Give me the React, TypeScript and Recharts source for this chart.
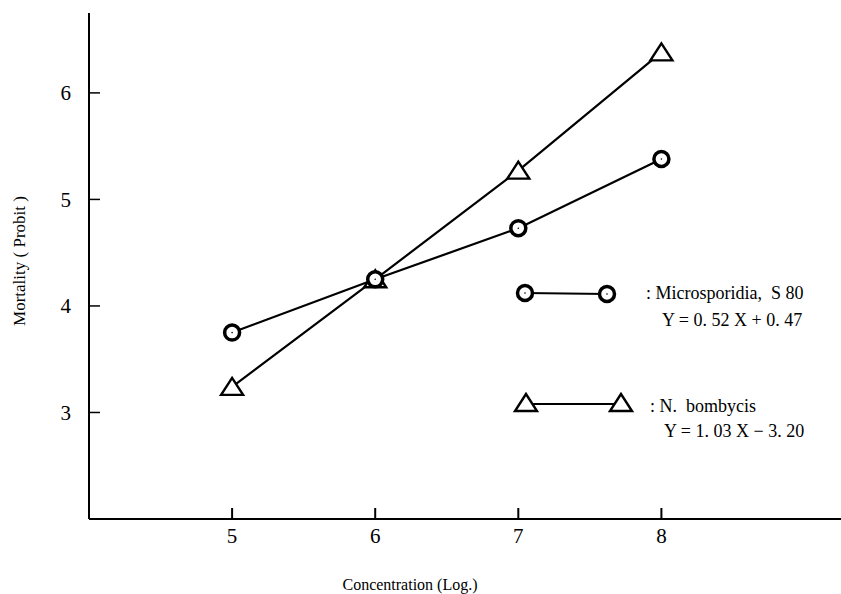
import React from 'react';
import { LineChart, Line, XAxis, YAxis, Legend } from 'recharts';

const concentration = [5, 6, 7, 8];
const microsporidia = [3.75, 4.25, 4.73, 5.38];
const bombycis = [3.24, 4.25, 5.27, 6.38];
const xTicks = [5, 6, 7, 8];
const yTicks = [3, 4, 5, 6];

const data = concentration.map((x, i) => ({ x, micro: microsporidia[i], bomb: bombycis[i] }));

const FONT = '"Liberation Serif", "Times New Roman", serif';

function Ring({ cx, cy }: { cx: number; cy: number }) {
  return (
    <g>
      <circle cx={cx} cy={cy} r={7.5} fill="#fff" stroke="#000" strokeWidth={3.5} />
      <circle cx={cx} cy={cy} r={0.8} fill="#000" />
    </g>
  );
}

function Tri({ cx, cy }: { cx: number; cy: number }) {
  return (
    <path
      d={`M${cx},${cy - 9} L${cx - 11},${cy + 8} L${cx + 11},${cy + 8} Z`}
      fill="#fff"
      stroke="#000"
      strokeWidth={2.4}
    />
  );
}

const ringDot = (p: any) => <Ring key={`r${p.index}`} cx={p.cx} cy={p.cy} />;
const triDot = (p: any) => <Tri key={`t${p.index}`} cx={p.cx} cy={p.cy} />;

function LegendBox() {
  const t = { fontFamily: FONT, fontSize: 18, fill: '#000' };
  return (
    <svg width={841} height={594} style={{ display: 'block' }}>
      <line x1={525} y1={293} x2={607} y2={294} stroke="#000" strokeWidth={2.2} />
      <Ring cx={525} cy={293} />
      <Ring cx={607} cy={294} />
      <text x={646} y={293} dominantBaseline="central" {...t}>: Microsporidia,&#160; S 80</text>
      <text x={662} y={320} dominantBaseline="central" {...t}>Y = 0. 52 X + 0. 47</text>

      <line x1={525} y1={404} x2={622} y2={404} stroke="#000" strokeWidth={2.2} />
      <Tri cx={526} cy={403} />
      <Tri cx={621} cy={403} />
      <text x={650} y={406} dominantBaseline="central" {...t}>: N.&#160; bombycis</text>
      <text x={664} y={431} dominantBaseline="central" {...t}>Y = 1. 03 X − 3. 20</text>
    </svg>
  );
}

export default function App() {
  return (
    <div style={{ position: 'absolute', left: 0, top: 0, background: '#fff' }}>
      <LineChart width={841} height={594} data={data} margin={{ top: 13, right: 0, bottom: 0, left: 0 }}>
        <XAxis
          type="number"
          dataKey="x"
          domain={[4, 9.255]}
          ticks={xTicks}
          allowDataOverflow
          height={75}
          tickSize={-11}
          tickMargin={20}
          axisLine={{ stroke: '#000', strokeWidth: 2 }}
          tickLine={{ stroke: '#000', strokeWidth: 2 }}
          tick={{ fill: '#000', fontSize: 21, fontFamily: FONT }}
          label={{
            content: () => (
              <text x={410} y={584} textAnchor="middle" dominantBaseline="central" fontFamily={FONT} fontSize={16} fill="#000">
                Concentration (Log.)
              </text>
            ),
          }}
        />
        <YAxis
          type="number"
          domain={[2, 6.75]}
          ticks={yTicks}
          allowDataOverflow
          width={89}
          tickSize={-11}
          tickMargin={29}
          axisLine={{ stroke: '#000', strokeWidth: 2 }}
          tickLine={{ stroke: '#000', strokeWidth: 1.5 }}
          tick={{ fill: '#000', fontSize: 21, fontFamily: FONT }}
          label={{
            content: () => (
              <text x={19} y={261} textAnchor="middle" dominantBaseline="central" transform="rotate(-90 19 261)" fontFamily={FONT} fontSize={17} fill="#000">
                Mortality ( Probit )
              </text>
            ),
          }}
        />
        <Legend
          verticalAlign="middle"
          align="center"
          layout="horizontal"
          wrapperStyle={{ left: 0, top: 0, width: 841, height: 594, pointerEvents: 'none' }}
          content={() => <LegendBox />}
        />
        <Line dataKey="bomb" stroke="#000" strokeWidth={2.2} dot={triDot} isAnimationActive={false} />
        <Line dataKey="micro" stroke="#000" strokeWidth={2.2} dot={ringDot} isAnimationActive={false} />
      </LineChart>
    </div>
  );
}
